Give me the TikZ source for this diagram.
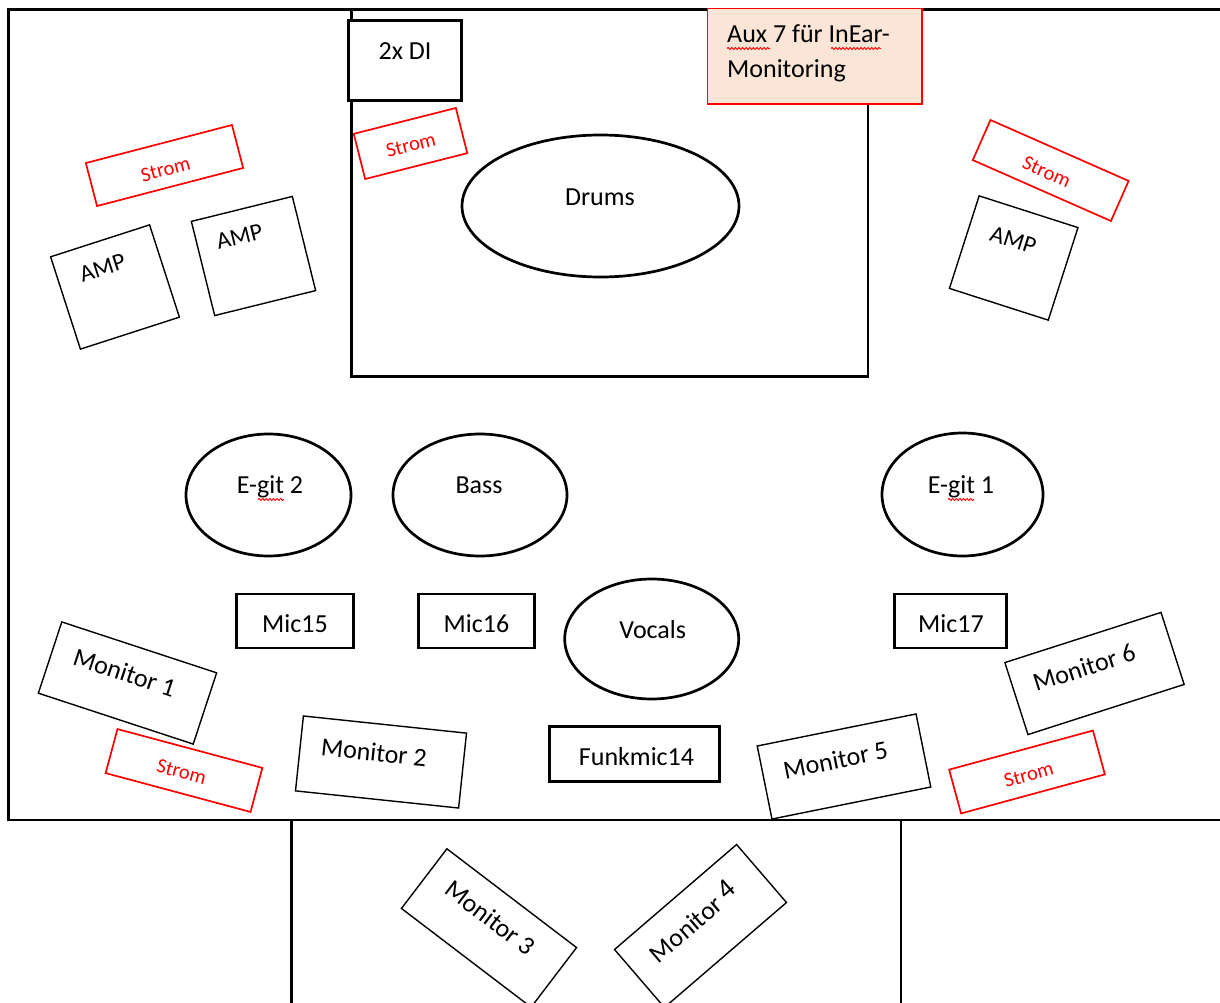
\documentclass[tikz,border=0pt]{standalone}
\usepackage{fontspec}
\setmainfont{Carlito}
\newfontfamily\lsans{Liberation Sans}
\usetikzlibrary{shapes.geometric,decorations.pathmorphing}
\definecolor{auxfill}{HTML}{FBE5D6}
\definecolor{strred}{HTML}{FF0000}
\begin{document}
\begin{tikzpicture}[x=1pt,y=-1pt,
  thickline/.style={line width=2.8pt},
  thickbox/.style={draw, line width=2.8pt, fill=white, inner sep=0pt, outer sep=0pt},
  thinbox/.style={draw, line width=1.4pt, inner sep=0pt, outer sep=0pt},
  strombox/.style={draw=strred, line width=1.7pt, inner sep=0pt, outer sep=0pt},
  oval/.style={draw, ellipse, line width=2.7pt, inner sep=0pt, outer sep=0pt},
  lbl/.style={font=\fontsize{26}{31}\selectfont, inner sep=0pt},
  amplbl/.style={font=\fontsize{24}{29}\selectfont, inner sep=0pt},
  stromlbl/.style={font=\fontsize{20.5}{24}\selectfont, text=strred, inner sep=0pt},
  squiggle/.style={draw=strred, line width=0.9pt, decorate, decoration={snake, amplitude=1pt, segment length=3.6pt}}
]
\useasboundingbox (0,0) rectangle (1220,1003);
\clip (0,0) rectangle (1220,1003);

% stage outline
\draw[thickline] (1230,9.3) -- (8.3,9.3) -- (8.3,820) -- (1230,820);
\draw[thickline] (291.5,820) -- (291.5,1010);
\draw[thickline] (901,820) -- (901,1010);
% drum riser
\draw[thickline] (351.7,9.3) rectangle (868,376.7);

% 2x DI
\node[thickbox, minimum width=113pt, minimum height=80pt] (di) at (405,60.5) {};
\node[lbl, anchor=base] (dit) at (405,60) {2x DI};

% Aux box
\node[draw=strred, fill=auxfill, line width=1.4pt, minimum width=214.5pt, minimum height=95.5pt, inner sep=0pt] (aux) at (814.75,56.25) {};
\node[lbl, anchor=base west] (auxt1) at (727,43) {Aux 7 für InEar-};
\node[lbl, anchor=base west] (auxt2) at (727,77.5) {Monitoring};
\draw[squiggle] (727,48.5) -- (770,48.5);
\draw[squiggle] (831,48.5) -- (881,48.5);

% ellipses
\node[oval, minimum width=277pt, minimum height=142pt] (drums) at (600.5,206) {};
\node[lbl, anchor=base] (drumst) at (600,206) {Drums};
\node[oval, minimum width=165pt, minimum height=122pt] (egit2) at (268.5,495) {};
\node[lbl, anchor=base] (egit2t) at (270,493) {E-git 2};
\draw[squiggle] (258,499.5) -- (284,499.5);
\node[oval, minimum width=174pt, minimum height=122pt] (bass) at (480,495) {};
\node[lbl, anchor=base] (basst) at (479,493) {Bass};
\node[oval, minimum width=161pt, minimum height=123pt] (egit1) at (962.5,494.5) {};
\node[lbl, anchor=base] (egit1t) at (961,493) {E-git 1};
\draw[squiggle] (948,499.5) -- (974,499.5);
\node[oval, minimum width=174pt, minimum height=120pt] (vocals) at (651.7,639) {};
\node[lbl, anchor=base] (vocalst) at (652.7,638) {Vocals};

% mic boxes
\node[thickbox, minimum width=116.6pt, minimum height=54pt] (mic15) at (295,621) {};
\node[lbl, anchor=base] (mic15t) at (295,632) {Mic15};
\node[thickbox, minimum width=116.6pt, minimum height=54pt] (mic16) at (476.5,621) {};
\node[lbl, anchor=base] (mic16t) at (476.5,632) {Mic16};
\node[thickbox, minimum width=112pt, minimum height=54pt] (mic17) at (950.5,621) {};
\node[lbl, anchor=base] (mic17t) at (951,632) {Mic17};
\node[thickbox, minimum width=170pt, minimum height=55pt] (funk) at (634.75,754.3) {};
\node[lbl, anchor=base] (funkt) at (636.5,765) {Funkmic14};

% AMPs
\begin{scope}[shift={(115,287)}, rotate=17.9, transform shape]
  \node[thinbox, minimum width=104pt, minimum height=97pt] (amp1) at (0,0) {};
  \node[amplbl] (amp1t) at (-6,-22) {AMP};
\end{scope}
\begin{scope}[shift={(253.5,256)}, rotate=13.9, transform shape]
  \node[thinbox, minimum width=104pt, minimum height=97pt] (amp2) at (0,0) {};
  \node[amplbl] (amp2t) at (-9,-22) {AMP};
\end{scope}
\begin{scope}[shift={(1013.7,258)}, rotate=-17.8, transform shape]
  \node[thinbox, minimum width=103.8pt, minimum height=97.2pt] (amp3) at (0,0) {};
  \node[amplbl] (amp3t) at (-6,-17) {AMP};
\end{scope}

% Strom boxes
\begin{scope}[shift={(164.5,165.5)}, rotate=14.6, transform shape]
  \node[strombox, minimum width=151pt, minimum height=44.4pt] (s1) at (0,0) {};
  \node[stromlbl] (s1t) at (0,4) {Strom};
\end{scope}
\begin{scope}[shift={(410.5,143.5)}, rotate=14.2, transform shape]
  \node[strombox, minimum width=105.3pt, minimum height=46.6pt] (s2) at (0,0) {};
  \node[stromlbl] (s2t) at (0,1.5) {Strom};
\end{scope}
\begin{scope}[shift={(1050.7,170.5)}, rotate=-23.8, transform shape]
  \node[strombox, minimum width=151pt, minimum height=43.8pt] (s3) at (0,0) {};
  \node[stromlbl] (s3t) at (-3,3) {Strom};
\end{scope}
\begin{scope}[shift={(184,770.5)}, rotate=-15, transform shape]
  \node[strombox, minimum width=150pt, minimum height=45.6pt] (s4) at (0,0) {};
  \node[stromlbl] (s4t) at (-2,2) {Strom};
\end{scope}
\begin{scope}[shift={(1027,772)}, rotate=15.2, transform shape]
  \node[strombox, minimum width=149pt, minimum height=45.4pt] (s5) at (0,0) {};
  \node[stromlbl] (s5t) at (1,3) {Strom};
\end{scope}

% Monitors
\begin{scope}[shift={(127.5,683)}, rotate=-18.2, transform shape]
  \node[thinbox, minimum width=163pt, minimum height=75pt] (m1) at (0,0) {};
  \node[lbl] (m1t) at (-6,-9) {Monitor 1};
\end{scope}
\begin{scope}[shift={(381,762)}, rotate=-6, transform shape]
  \node[thinbox, minimum width=164pt, minimum height=75.3pt] (m2) at (0,0) {};
  \node[lbl] (m2t) at (-8,-9) {Monitor 2};
\end{scope}
\begin{scope}[shift={(489,928)}, rotate=-37.3, transform shape]
  \node[thinbox, minimum width=163pt, minimum height=75pt] (m3) at (0,0) {};
  \node[lbl] (m3t) at (-5,-9) {Monitor 3};
\end{scope}
\begin{scope}[shift={(700.5,926)}, rotate=40.7, transform shape]
  \node[thinbox, minimum width=161pt, minimum height=76.5pt] (m4) at (0,0) {};
  \node[lbl] (m4t) at (-3,-9) {Monitor \raisebox{4pt}{\lsans 4}};
\end{scope}
\begin{scope}[shift={(844,766.5)}, rotate=11.4, transform shape]
  \node[thinbox, minimum width=162pt, minimum height=74.5pt] (m5) at (0,0) {};
  \node[lbl] (m5t) at (-7,-8) {Monitor 5};
\end{scope}
\begin{scope}[shift={(1094.5,673.5)}, rotate=17.8, transform shape]
  \node[thinbox, minimum width=164pt, minimum height=75.6pt] (m6) at (0,0) {};
  \node[lbl] (m6t) at (-8,-9) {Monitor 6};
\end{scope}
\end{tikzpicture}
\end{document}
